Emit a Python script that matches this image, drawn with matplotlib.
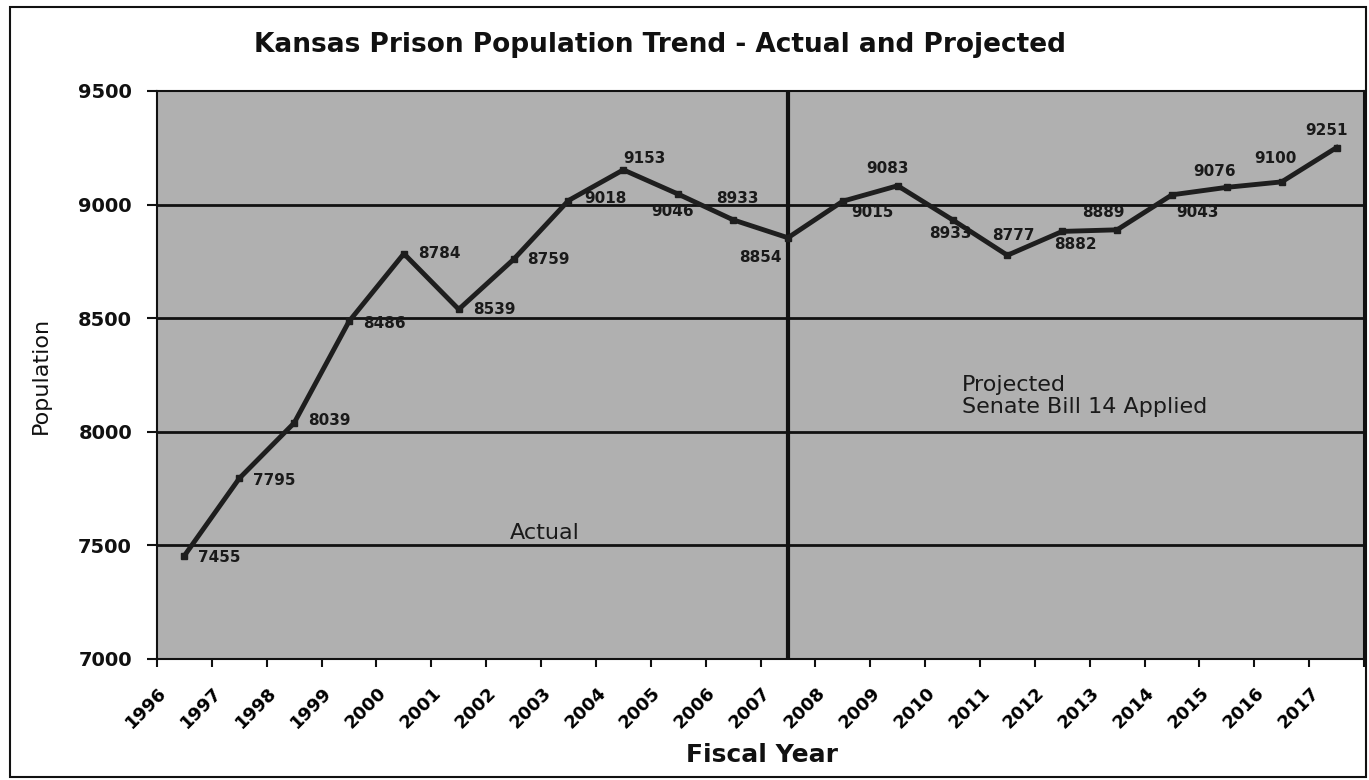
import matplotlib
matplotlib.use("Agg")
import matplotlib.pyplot as plt
import matplotlib.transforms as mtransforms
import numpy as np

# Data
years = [str(y) for y in range(1996, 2018)]
population = [7455, 7795, 8039, 8486, 8784, 8539, 8759, 9018, 9153, 9046, 8933,
              8854, 9015, 9083, 8933, 8777, 8882, 8889, 9043, 9076, 9100, 9251]
split_year = "2007"
y_ticks = [7000, 7500, 8000, 8500, 9000, 9500]

# Where each value label sits relative to its point (pixels, ha, va)
label_place = [
    (14, -2, "left", "center"), (14, -2, "left", "center"), (14, 2, "left", "center"),
    (14, -2, "left", "center"), (14, 0, "left", "center"), (14, 0, "left", "center"),
    (14, 0, "left", "center"), (16, 2, "left", "center"), (0, 4, "left", "bottom"),
    (-6, -10, "center", "top"), (4, 14, "center", "bottom"), (-6, -12, "right", "top"),
    (8, -4, "left", "top"), (-10, 10, "center", "bottom"), (-2, -6, "center", "top"),
    (6, 12, "center", "bottom"), (-8, -6, "left", "top"), (-14, 10, "center", "bottom"),
    (4, -10, "left", "top"), (-12, 8, "center", "bottom"), (-6, 16, "center", "bottom"),
    (-10, 10, "center", "bottom"),
]

W, H = 1369, 780
fig = plt.figure(figsize=(W / 100, H / 100), dpi=100)
ax = fig.add_axes([157 / W, 1 - 659 / H, (1364 - 157) / W, (659 - 91) / H])

x = np.arange(len(years))
ax.set_facecolor("#b0b0b0")
ax.set_xlim(-0.5, len(years) - 0.5)
ax.set_ylim(y_ticks[0], y_ticks[-1])

for v in y_ticks[1:-1]:
    ax.axhline(v, color="#111111", lw=2, zorder=1)

ax.axvline(years.index(split_year), color="#111111", lw=3, zorder=2)

ax.plot(x, population, color="#1e1e1e", lw=3.5, marker="s", ms=5, zorder=3)

for i, (val, (dx, dy, ha, va)) in enumerate(zip(population, label_place)):
    ax.annotate(str(val), (i, val), xytext=(dx, dy), textcoords="offset pixels",
                ha=ha, va=va, fontsize=11, fontweight="bold", color="#1a1a1a", zorder=4)

# axis ticks and labels
ax.set_yticks(y_ticks)
ax.set_yticklabels([str(v) for v in y_ticks], fontsize=14, fontweight="bold")
ax.tick_params(axis="y", length=7, width=1.5, pad=11, colors="#111111")

ax.set_xticks(x)
ax.set_xticklabels(years, rotation=45, ha="right", va="top", fontsize=13, fontweight="bold")
ax.tick_params(axis="x", which="major", length=0, pad=18)
ax.set_xticks(np.arange(-0.5, len(years)), minor=True)
ax.tick_params(axis="x", which="minor", length=6, width=1.5, color="#111111")
shift = mtransforms.ScaledTranslation(-14 / 100, 0, fig.dpi_scale_trans)
for lab in ax.get_xticklabels():
    lab.set_transform(lab.get_transform() + shift)

for s in ax.spines.values():
    s.set_color("#111111")
    s.set_linewidth(1.5)

fig.text(41 / W, 1 - 375 / H, "Population", rotation=90, ha="center", va="center",
         fontsize=16, color="#111111")
fig.text(762 / W, 1 - 755 / H, "Fiscal Year", ha="center", va="center",
         fontsize=18, fontweight="bold", color="#111111")
fig.text(660 / W, 1 - 45 / H, "Kansas Prison Population Trend - Actual and Projected",
         ha="center", va="center", fontsize=19, fontweight="bold", color="#111111")

fig.text(545 / W, 1 - 533 / H, "Actual", ha="center", va="center", fontsize=16, color="#1a1a1a")
fig.text(962 / W, 1 - 396 / H, "Projected\nSenate Bill 14 Applied", ha="left", va="center",
         fontsize=16, color="#1a1a1a", linespacing=1.1)

# outer frame
fig.patches.append(plt.Rectangle((10 / W, 3 / H), (1366 - 10) / W, (773 - 3) / H,
                                 transform=fig.transFigure, fill=False,
                                 edgecolor="#111111", lw=1.5))

fig.savefig("out.png", dpi=100)
